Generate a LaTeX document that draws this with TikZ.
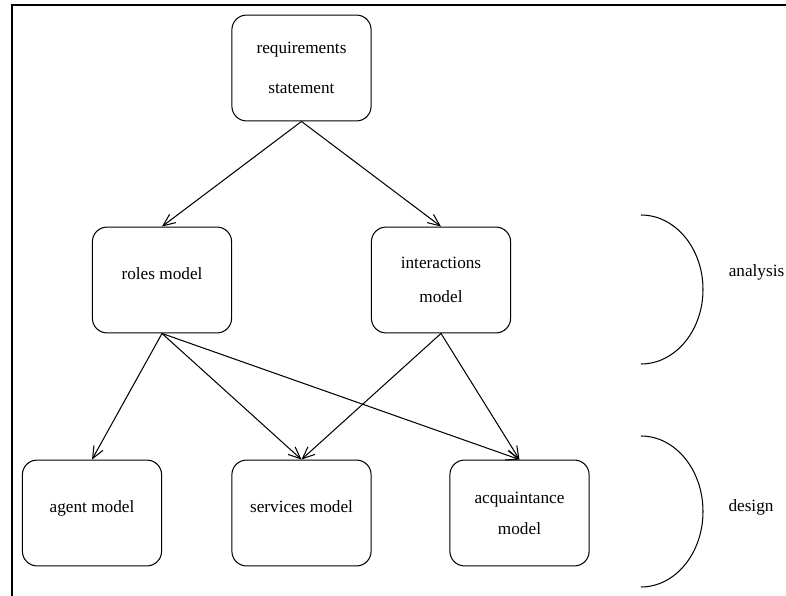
\documentclass[tikz,border=0pt]{standalone}
\usepackage{fontspec}
\setmainfont{Liberation Serif}
\usetikzlibrary{arrows.meta}

\begin{document}
\begin{tikzpicture}[x=0.0204cm,y=-0.0204cm,
  box/.style={draw,rounded corners=0.3cm,line width=0.6pt,minimum width=2.84cm,minimum height=2.16cm,align=center},
  one/.style={text height=7pt,text depth=8pt}]

\useasboundingbox (0,0) rectangle (786,596);
\draw[line width=1.2pt] (12,597) -- (12,5) -- (787,5);

\node[box](1) at (301.5,68) {requirements\\[11.5pt]statement};
\node[box,one](2) at (162,280) {roles model};
\node[box](3) at (441,280) {interactions\\[7.8pt]model};
\node[box,one](4) at (92,513) {agent model};
\node[box,one](5) at (301.5,513) {services model};
\node[box](6) at (519.5,513) {acquaintance\\[6pt]model};
\node(7) at (756.5,272) {analysis};
\node(8) at (751,507) {design};
\draw [-{Straight Barb[length=7pt,width=6pt]},line width=0.6pt](1.south)--(2.north);
\draw [-{Straight Barb[length=7pt,width=6pt]},line width=0.6pt](1.south)--(3.north);
\draw [-{Straight Barb[length=7pt,width=6pt]},line width=0.6pt](2.south)--(4.north);
\draw [-{Straight Barb[length=7pt,width=6pt]},line width=0.6pt](2.south)--(5.north);
\draw [-{Straight Barb[length=7pt,width=6pt]},line width=0.6pt](2.south)--(6.north);
\draw [-{Straight Barb[length=7pt,width=6pt]},line width=0.6pt](3.south)--(5.north);
\draw [-{Straight Barb[length=7pt,width=6pt]},line width=0.6pt](3.south)--(6.north);
\draw [line width=0.6pt](641,215) arc[start angle=-90,end angle=90,x radius=62,y radius=74.5];
\draw [line width=0.6pt](641,436) arc[start angle=-90,end angle=90,x radius=62,y radius=75.5];

\end{tikzpicture}
\end{document}
